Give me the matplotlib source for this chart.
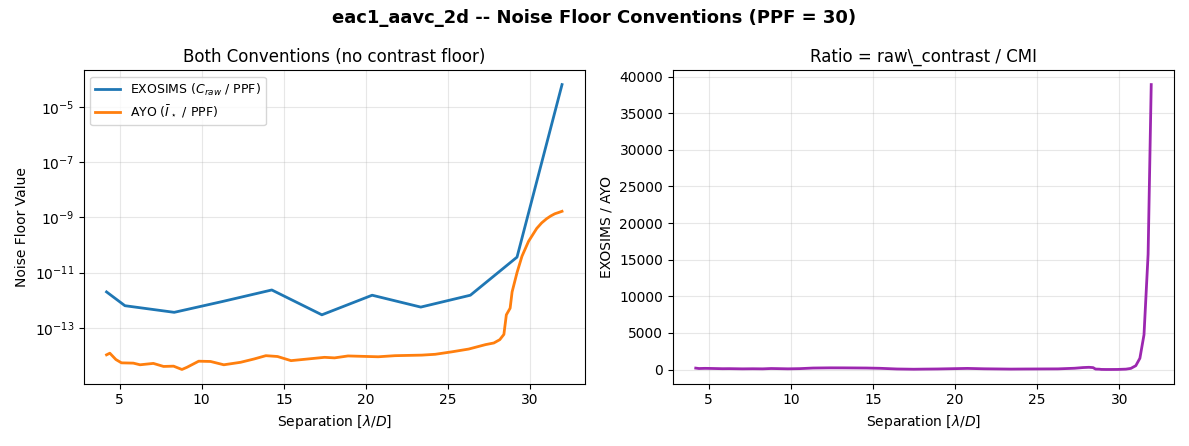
import numpy as np
import matplotlib
matplotlib.use('Agg')
import matplotlib.pyplot as plt

# EXOSIMS noise floor (C_raw / PPF), coarse sampling, log10 values
exo_sep = [4.21, 5.33, 8.33, 11.25, 14.27, 17.32, 20.38, 23.34, 26.36, 29.2, 31.94]
exo_log = [-11.70, -12.20, -12.44, -12.05, -11.63, -12.53, -11.82, -12.25, -11.82, -10.44, -4.19]

# AYO noise floor (I_star / PPF), log10 values
ayo_sep = [4.21, 4.41, 4.78, 5.12, 5.84, 6.25, 7.06, 7.68, 8.29, 8.80, 9.11, 9.82,
           10.54, 11.35, 12.37, 13.19, 13.91, 14.62, 15.44, 16.46, 17.48, 18.09,
           18.91, 20.75, 21.77, 23.40, 24.22, 25.24, 26.26, 27.28, 27.79, 28.15,
           28.4, 28.55, 28.78, 28.9, 29.2, 29.5, 29.9, 30.4, 30.7, 31.0, 31.25,
           31.5, 31.75, 31.94]
ayo_log = [-13.98, -13.92, -14.15, -14.27, -14.28, -14.34, -14.29, -14.40, -14.39,
           -14.51, -14.43, -14.21, -14.22, -14.34, -14.25, -14.13, -14.01, -14.04,
           -14.19, -14.13, -14.07, -14.09, -14.02, -14.05, -14.01, -13.99, -13.96,
           -13.87, -13.77, -13.61, -13.55, -13.43, -13.24, -12.53, -12.29, -11.70,
           -11.00, -10.41, -9.87, -9.40, -9.20, -9.05, -8.95, -8.87, -8.82, -8.78]

exo_sep = np.array(exo_sep)
ayo_sep = np.array(ayo_sep)
exo = 10.0 ** np.array(exo_log)
ayo = 10.0 ** np.array(ayo_log)

# ratio on the AYO grid (EXOSIMS interpolated in log space)
ratio = 10.0 ** (np.interp(ayo_sep, exo_sep, exo_log) - np.array(ayo_log))

fig, (ax1, ax2) = plt.subplots(1, 2, figsize=(11.89, 4.46), dpi=100)
fig.suptitle('eac1_aavc_2d -- Noise Floor Conventions (PPF = 30)', fontsize=13, fontweight='bold')

ax1.semilogy(exo_sep, exo, color='#1f77b4', lw=2, label=r'EXOSIMS ($C_{raw}$ / PPF)')
ax1.semilogy(ayo_sep, ayo, color='#ff7f0e', lw=2, label=r'AYO ($\bar{I}_\star$ / PPF)')
ax1.set_yticks([1e-5, 1e-7, 1e-9, 1e-11, 1e-13])
ax1.set_xlabel(r'Separation [$\lambda/D$]')
ax1.set_ylabel('Noise Floor Value')
ax1.set_title('Both Conventions (no contrast floor)')
ax1.legend(loc='upper left', fontsize=9)
ax1.grid(True, alpha=0.3)

ax2.plot(ayo_sep, ratio, color='#9c27b0', lw=2)
ax2.set_xlabel(r'Separation [$\lambda/D$]')
ax2.set_ylabel('EXOSIMS / AYO')
ax2.set_title(r'Ratio = raw\_contrast / CMI')
ax2.grid(True, alpha=0.3)

plt.tight_layout()
plt.savefig('out.png')
